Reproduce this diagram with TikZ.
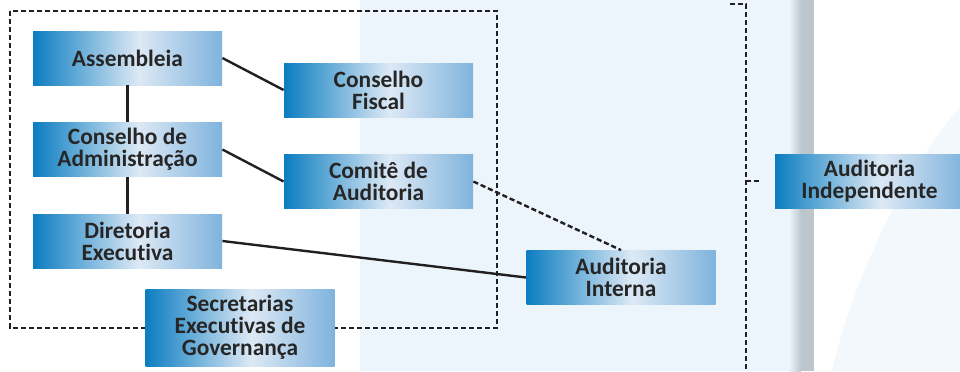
\documentclass[tikz,border=0pt]{standalone}
\usepackage{fontspec}
\setmainfont{Carlito}[Ligatures=NoCommon]
\definecolor{boxdark}{HTML}{0B7DC1}
\definecolor{boxlight}{HTML}{DDE9F5}
\definecolor{boxright}{HTML}{7FB3DD}
\definecolor{panel}{HTML}{EDF5FC}
\definecolor{bar}{HTML}{BDC6CD}
\definecolor{ink}{HTML}{262626}
\definecolor{linec}{HTML}{231F20}
\pgfdeclarehorizontalshading{boxshade}{100bp}{color(0bp)=(boxdark); color(25bp)=(boxdark); color(53bp)=(boxlight); color(75bp)=(boxright); color(100bp)=(boxright)}
\tikzset{
  orgbox/.style={shading=boxshade, text=ink, font=\bfseries\fontsize{11.7}{11}\selectfont,
    align=center, minimum width=94.5pt, minimum height=27pt, inner sep=0pt},
  link/.style={draw=linec, line width=1.2pt},
  dlink/.style={draw=linec, line width=1.2pt, dash pattern=on 2.6pt off 1.4pt}
}
\begin{document}
\begin{tikzpicture}[x=0.5pt,y=-0.5pt]
  \useasboundingbox (0,0) rectangle (960,371);
  % background
  \fill[panel] (360,0) rectangle (793,371);
  \shade[left color=panel,right color=bar] (789,0) rectangle (801,371);
  \fill[bar] (801,0) rectangle (814,371);
  \fill[panel!70!white] (962,105) .. controls (900,175) and (850,290) .. (832,371) -- (962,371) -- cycle;

  \draw[dlink] (10,11) rectangle (497,328);

  \node[orgbox] (assem)  at (127.5,58)  {Assembleia};
  \node[orgbox] (fiscal) at (378.5,90)  {Conselho\\Fiscal};
  \node[orgbox] (conad)  at (127.5,149.5) {Conselho de\\Administração};
  \node[orgbox] (comite) at (378.5,181.5) {Comitê de\\Auditoria};
  \node[orgbox] (diret)  at (127.5,241) {Diretoria\\Executiva};
  \node[orgbox, minimum height=38.5pt] (secret) at (240,327.5) {Secretarias\\Executivas de\\Governança};
  \node[orgbox] (audint) at (621,277.5) {Auditoria\\Interna};
  \node[orgbox] (audind) at (869.5,181) {Auditoria\\Independente};

  \coordinate (brtop) at (730,4);
  \coordinate (brcorner) at (746,4);
  \coordinate (brmid) at (746,181);
  \coordinate (brbot) at (746,375);

  \path[link] (assem) -- (conad);
  \path[link] (conad) -- (diret);
  \path[link] (assem.east) -- (fiscal.west);
  \path[link] (conad.east) -- (comite.west);
  \path[link] (diret.east) -- (audint.west);
  \path[dlink] (comite.east) -- (audint.north);
  \path[dlink] (brtop) -- (brcorner) -- (brbot);
  \path[dlink, shorten >=8] (brmid) -- (audind.west);
\end{tikzpicture}
\end{document}
